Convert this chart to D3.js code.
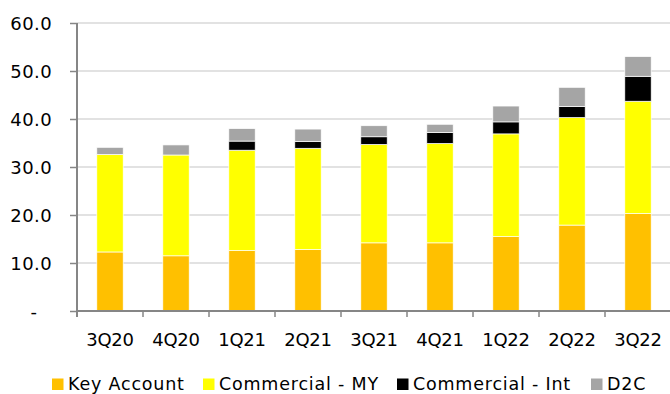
<!DOCTYPE html>
<html>
<head>
<meta charset="utf-8">
<script src="https://cdn.jsdelivr.net/npm/d3@7"></script>
<style>
  body { margin: 0; background: #fff; }
  text { font-family: "DejaVu Sans", sans-serif; fill: #000; }
</style>
</head>
<body>
<div id="chart"></div>
<script>
// quarters and the four stacked series
var quarters = ["3Q20", "4Q20", "1Q21", "2Q21", "3Q21", "4Q21", "1Q22", "2Q22", "3Q22"];
var keyAccount = [12.3, 11.5, 12.6, 12.8, 14.2, 14.2, 15.5, 17.9, 20.3];
var commercialMY = [20.3, 21.0, 20.9, 21.1, 20.5, 20.7, 21.4, 22.4, 23.4];
var commercialInt = [0.0, 0.0, 1.9, 1.4, 1.6, 2.3, 2.5, 2.3, 5.2];
var d2c = [1.5, 2.1, 2.6, 2.6, 2.3, 1.7, 3.3, 4.0, 4.1];
var seriesNames = ["Key Account", "Commercial - MY", "Commercial - Int", "D2C"];
var yTicks = [0, 10, 20, 30, 40, 50, 60];

var colors = ["#FFC000", "#FFFF00", "#000000", "#A5A5A5"];
var width = 670, height = 394;

// build rows for the stack
var rows = quarters.map(function(q, i) {
    return { q: q, "Key Account": keyAccount[i], "Commercial - MY": commercialMY[i],
             "Commercial - Int": commercialInt[i], "D2C": d2c[i] };
});

var svg = d3.select("#chart").append("svg")
    .attr("width", width)
    .attr("height", height);

var x = d3.scaleBand()
    .domain(quarters)
    .range([77, 671])
    .paddingInner(0.6)
    .paddingOuter(0.3);

var y = d3.scaleLinear()
    .domain([0, 60])
    .range([311, 23]);

// gridlines
svg.append("g")
    .selectAll("line")
    .data(yTicks.slice(1))
    .join("line")
    .attr("x1", 77)
    .attr("x2", 670)
    .attr("y1", function(d) { return y(d); })
    .attr("y2", function(d) { return y(d); })
    .attr("stroke", "#D9D9D9")
    .attr("stroke-width", 1.5);

// stacked bars
var stacked = d3.stack().keys(seriesNames)(rows);

svg.append("g")
    .selectAll("g")
    .data(stacked)
    .join("g")
    .attr("fill", function(d, i) { return colors[i]; })
    .selectAll("rect")
    .data(function(d) { return d; })
    .join("rect")
    .attr("x", function(d) { return x(d.data.q); })
    .attr("width", x.bandwidth())
    .attr("y", function(d) { return y(d[1]); })
    .attr("height", function(d) { return Math.max(0, y(d[0]) - y(d[1])); })
    .attr("stroke", "#fff")
    .attr("stroke-width", 0.7);

// y axis
var yAxis = svg.append("g")
    .attr("transform", "translate(77,0)")
    .call(d3.axisLeft(y).tickValues(yTicks).tickSize(7).tickPadding(18)
        .tickFormat(function(d) { return d === 0 ? "-" : d3.format(".1f")(d); }));
yAxis.select(".domain").attr("stroke", "#868686").attr("stroke-width", 2)
    .attr("d", "M0,23V317");
yAxis.selectAll(".tick line").attr("stroke", "#868686").attr("stroke-width", 1.5);
yAxis.selectAll(".tick text")
    .attr("font-size", 18)
    .attr("font-family", "DejaVu Sans")
    .attr("letter-spacing", 0.4)
    .attr("fill", "#000")
    .attr("dy", "0.36em");
yAxis.selectAll(".tick")
    .filter(function(d) { return d === 0; })
    .select("text")
    .attr("text-anchor", "middle")
    .attr("x", -43);

// x axis
var xAxis = svg.append("g")
    .attr("transform", "translate(0,311)")
    .call(d3.axisBottom(x).tickSize(0).tickPadding(22));
xAxis.select(".domain").attr("stroke", "#868686").attr("stroke-width", 2)
    .attr("d", "M77,0H670");
xAxis.selectAll(".tick text")
    .attr("font-size", 18)
    .attr("font-family", "DejaVu Sans")
    .attr("letter-spacing", -0.3)
    .attr("fill", "#000");

// x tick marks between categories
svg.append("g")
    .selectAll("line")
    .data(quarters.slice(1))
    .join("line")
    .attr("x1", function(d) { return x(d) - x.step() * x.paddingInner() / 2; })
    .attr("x2", function(d) { return x(d) - x.step() * x.paddingInner() / 2; })
    .attr("y1", 311)
    .attr("y2", 317)
    .attr("stroke", "#868686")
    .attr("stroke-width", 1.5);

// legend
var legendX = [52, 203, 397, 591];
var legend = svg.append("g")
    .selectAll("g")
    .data(seriesNames)
    .join("g")
    .attr("transform", function(d, i) { return "translate(" + legendX[i] + ",0)"; });

legend.append("rect")
    .attr("x", 0)
    .attr("y", 378.5)
    .attr("width", 11.5)
    .attr("height", 11.5)
    .attr("fill", function(d, i) { return colors[i]; });

legend.append("text")
    .attr("x", 16)
    .attr("y", 389.5)
    .attr("font-size", 17.5)
    .attr("letter-spacing", 0.8)
    .text(function(d) { return d; });
</script>
</body>
</html>
